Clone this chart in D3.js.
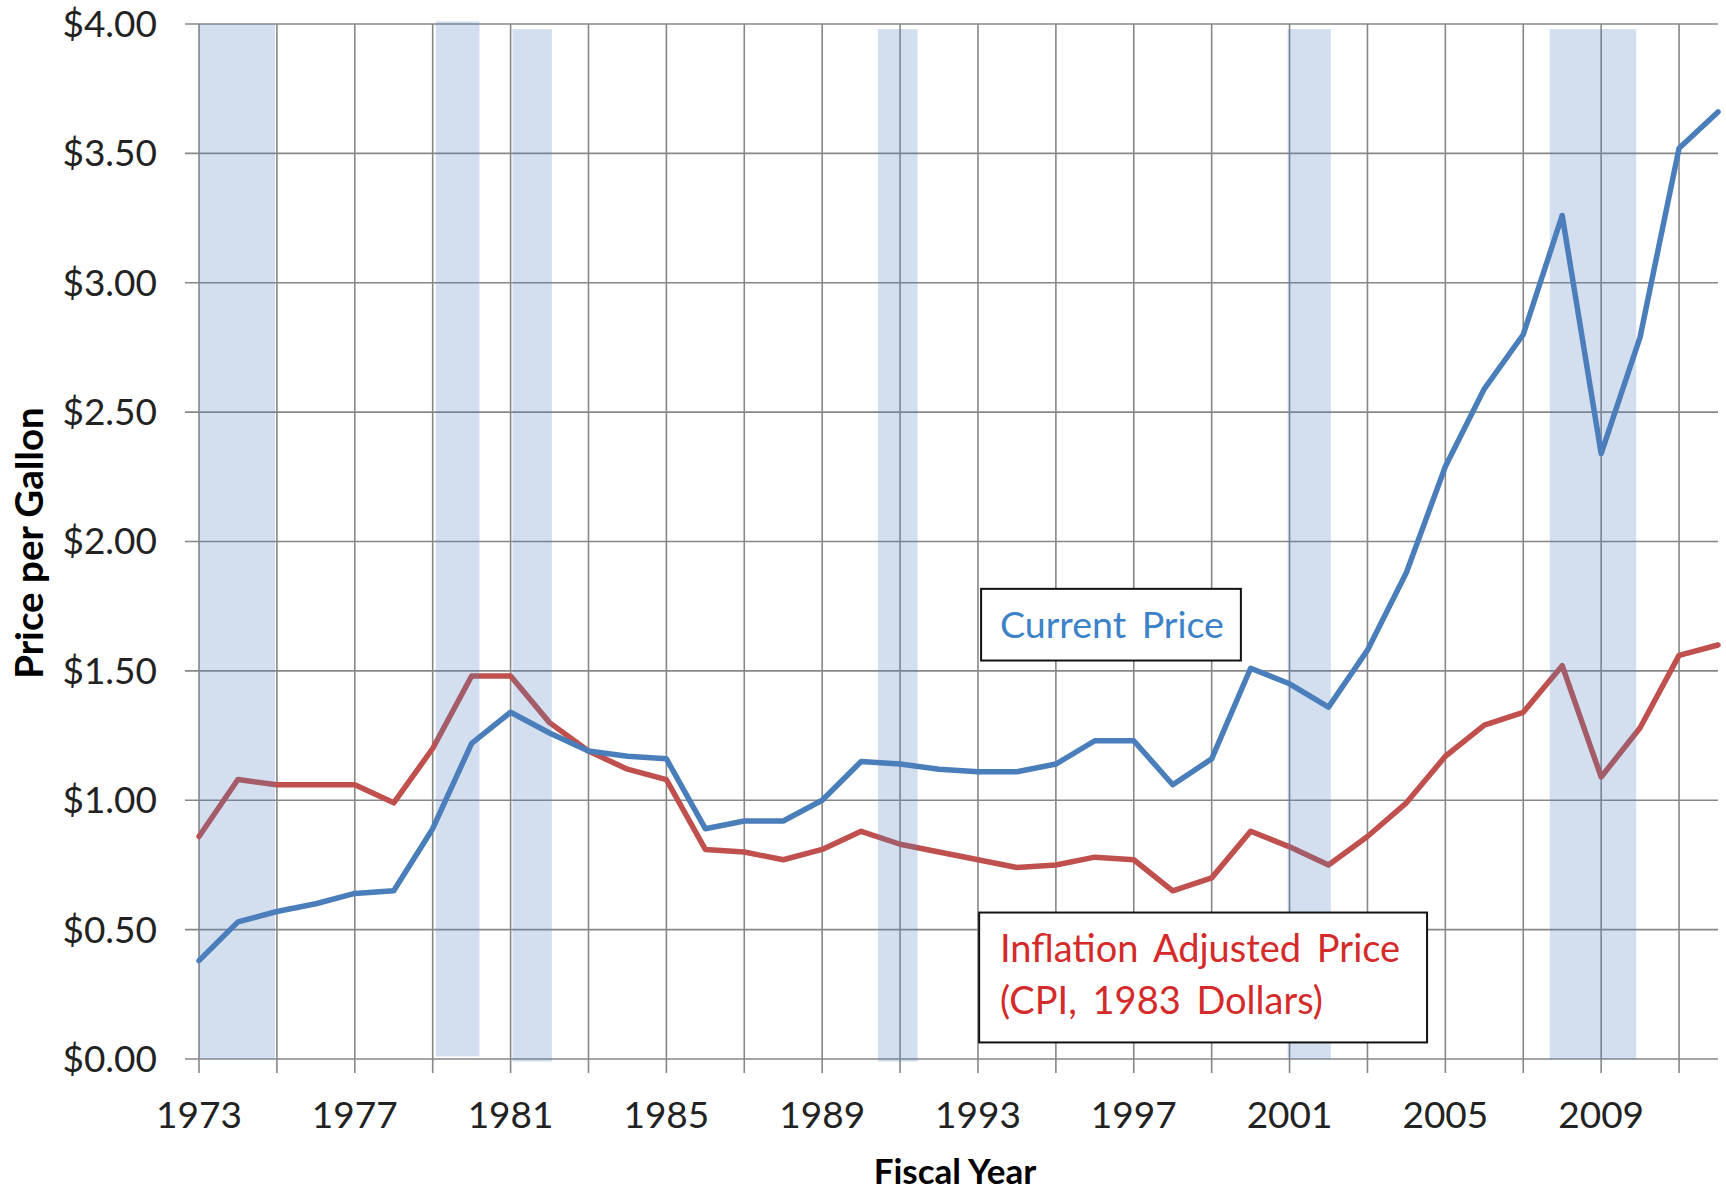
<!DOCTYPE html>
<html>
<head>
<meta charset="utf-8">
<script src="https://cdn.jsdelivr.net/npm/d3@7"></script>
<style>
  html, body { margin: 0; padding: 0; background: #fff; }
  svg { display: block; font-family: Lato, "Open Sans", sans-serif; }
</style>
</head>
<body>
<svg id="chart" width="1726" height="1190"></svg>
<script>
// ---- data ----
const years = d3.range(1973, 2013);
const currentPrice = [0.38, 0.53, 0.57, 0.60, 0.64, 0.65, 0.89, 1.22, 1.34, 1.26,
  1.19, 1.17, 1.16, 0.89, 0.92, 0.92, 1.00, 1.15, 1.14, 1.12,
  1.11, 1.11, 1.14, 1.23, 1.23, 1.06, 1.16, 1.51, 1.45, 1.36,
  1.58, 1.88, 2.29, 2.59, 2.80, 3.26, 2.34, 2.79, 3.52, 3.66];
const adjustedPrice = [0.86, 1.08, 1.06, 1.06, 1.06, 0.99, 1.20, 1.48, 1.48, 1.30,
  1.19, 1.12, 1.08, 0.81, 0.80, 0.77, 0.81, 0.88, 0.83, 0.80,
  0.77, 0.74, 0.75, 0.78, 0.77, 0.65, 0.70, 0.88, 0.82, 0.75,
  0.86, 0.99, 1.17, 1.29, 1.34, 1.52, 1.09, 1.28, 1.56, 1.60];
const recessionStart = [1973.0, 1979.08, 1981.05, 1990.43, 2000.95, 2007.68];
const recessionEnd   = [1974.95, 1980.2, 1982.06, 1991.45, 2002.06, 2009.9];
const recessionTop   = [4.0, 4.01, 3.98, 3.98, 3.98, 3.98];
const recessionBottom= [0.0, 0.01, -0.01, -0.01, 0.0, 0.0];
const yTicks = [0, 0.5, 1.0, 1.5, 2.0, 2.5, 3.0, 3.5, 4.0];
const xGridYears = d3.range(1973, 2012, 2);
const xLabelYears = [1973, 1977, 1981, 1985, 1989, 1993, 1997, 2001, 2005, 2009];

// ---- scales ----
const svg = d3.select("#chart");
const x = d3.scaleLinear().domain([1973, 2012]).range([199, 1718]);
const y = d3.scaleLinear().domain([0, 4]).range([1059, 24]);
const gridColor = "#878787";

// horizontal grid
svg.append("g").selectAll("line").data(yTicks).join("line")
  .attr("x1", x(1973) - 14).attr("x2", x(2012))
  .attr("y1", d => y(d)).attr("y2", d => y(d))
  .attr("stroke", gridColor).attr("stroke-width", 1.6);

// vertical grid + ticks
svg.append("g").selectAll("line").data(xGridYears).join("line")
  .attr("x1", d => x(d)).attr("x2", d => x(d))
  .attr("y1", y(4)).attr("y2", y(0) + 14)
  .attr("stroke", gridColor).attr("stroke-width", 1.6);

// y labels
svg.append("g").selectAll("text").data(yTicks).join("text")
  .attr("x", 157).attr("y", d => y(d))
  .attr("dy", "0.35em").attr("text-anchor", "end")
  .attr("font-size", 37).attr("fill", "#222")
  .text(d => "$" + d3.format(".2f")(d));

// x labels
svg.append("g").selectAll("text").data(xLabelYears).join("text")
  .attr("x", d => x(d)).attr("y", 1115)
  .attr("dy", "0.35em").attr("text-anchor", "middle")
  .attr("font-size", 37).attr("fill", "#222")
  .text(d => d);

// lines
const line = d3.line().x((d, i) => x(years[i])).y(d => y(d));
svg.append("path").datum(adjustedPrice)
  .attr("d", line).attr("fill", "none")
  .attr("stroke", "#c0504d").attr("stroke-width", 5.5)
  .attr("stroke-linejoin", "round").attr("stroke-linecap", "round");
svg.append("path").datum(currentPrice)
  .attr("d", line).attr("fill", "none")
  .attr("stroke", "#4a7ebb").attr("stroke-width", 5.5)
  .attr("stroke-linejoin", "round").attr("stroke-linecap", "round");

// recession bars (semi-transparent, on top)
svg.append("g").selectAll("rect").data(recessionStart).join("rect")
  .attr("x", (d, i) => x(d))
  .attr("width", (d, i) => x(recessionEnd[i]) - x(d))
  .attr("y", (d, i) => y(recessionTop[i]))
  .attr("height", (d, i) => y(recessionBottom[i]) - y(recessionTop[i]))
  .attr("fill", "#4f81bd").attr("fill-opacity", 0.25);

// annotation boxes
function box(x0, x1, v0, v1, lines, color, firstY, lineGap, tx, fs) {
  svg.append("rect")
    .attr("x", x(x0)).attr("y", y(v0))
    .attr("width", x(x1) - x(x0)).attr("height", y(v1) - y(v0))
    .attr("fill", "#fff").attr("stroke", "#111").attr("stroke-width", 2);
  lines.forEach((t, i) => {
    svg.append("text")
      .attr("x", tx).attr("y", firstY + i * lineGap)
      .attr("dy", "0.35em")
      .attr("font-size", fs).attr("fill", color)
      .attr("word-spacing", 6)
      .text(t);
  });
}
box(1993.08, 1999.75, 1.817, 1.540, ["Current Price"], "#3b82c9", 625, 0, 1000, 37.5);
box(1993.03, 2004.53, 0.566, 0.064, ["Inflation Adjusted Price", "(CPI, 1983 Dollars)"], "#d42a2a", 949, 52, 1000, 38);

// axis titles
svg.append("text")
  .attr("transform", "translate(30,543) rotate(-90)")
  .attr("text-anchor", "middle").attr("dy", "0.35em")
  .attr("font-size", 38.5).attr("font-weight", "bold").attr("fill", "#000")
  .text("Price per Gallon");
svg.append("text")
  .attr("x", 955).attr("y", 1172).attr("dy", "0.35em")
  .attr("text-anchor", "middle")
  .attr("font-size", 35).attr("font-weight", "bold").attr("fill", "#000")
  .text("Fiscal Year");
</script>
</body>
</html>
